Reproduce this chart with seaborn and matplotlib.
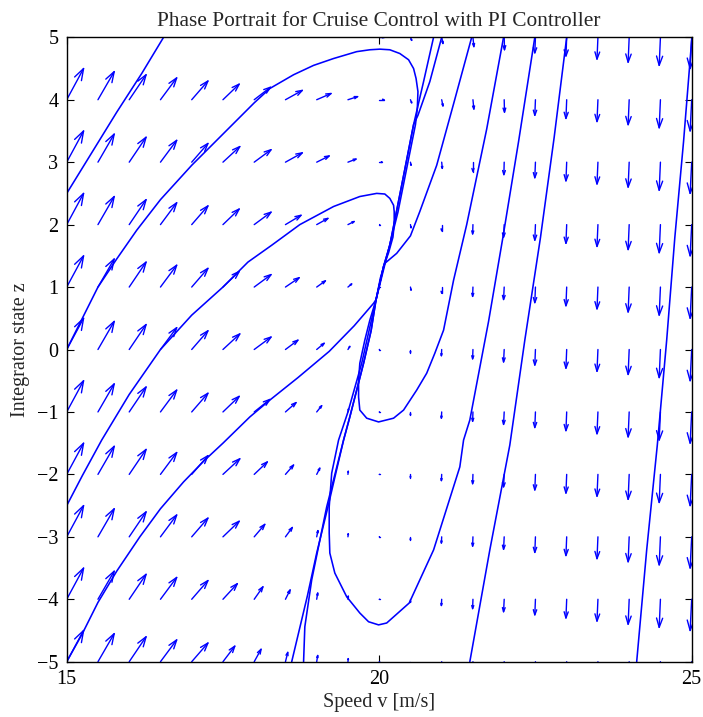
import numpy as np
import pandas as pd
import matplotlib
matplotlib.use("Agg")
import matplotlib.pyplot as plt
from matplotlib.collections import LineCollection
import seaborn as sns

# ---------------------------------------------------------------------------
# Vector field sampled on a regular grid (speed v, integrator state z)
# ---------------------------------------------------------------------------
speed_grid = [15.0, 15.5, 16.0, 16.5, 17.0, 17.5, 18.0, 18.5, 19.0, 19.5, 20.0,
              20.5, 21.0, 21.5, 22.0, 22.5, 23.0, 23.5, 24.0, 24.5, 25.0]
integrator_grid = [5, 4, 3, 2, 1, 0, -1, -2, -3, -4, -5]

# scaled dz/dt for every speed column
dz_column = [0.50, 0.45, 0.40, 0.35, 0.30, 0.25, 0.20, 0.15, 0.10, 0.05, 0.0,
             -0.05, -0.10, -0.15, -0.20, -0.25, -0.30, -0.35, -0.40, -0.45, -0.50]

# scaled dv/dt, one row per integrator level (top to bottom)
dv_z_p5 = [.27, .26, .27, .26, .26, .26, .26, .27, .23, .16, .08, .02, .02, .015, .005, -.01, -.012, -.015, -.017, -.02, -.025]
dv_z_p4 = [.27, .26, .27, .26, .26, .26, .26, .27, .23, .155, .08, .02, .02, .015, .005, -.01, -.012, -.015, -.017, -.02, -.025]
dv_z_p3 = [.27, .26, .27, .26, .26, .27, .27, .27, .20, .13, .05, .01, .01, .0, -.005, -.01, -.012, -.015, -.017, -.02, -.025]
dv_z_p2 = [.27, .26, .27, .26, .26, .26, .27, .25, .18, .10, .01, .01, .0, -.005, -.01, -.01, -.012, -.015, -.017, -.02, -.025]
dv_z_p1 = [.27, .26, .27, .26, .26, .26, .27, .22, .14, .06, .005, .01, .0, -.005, -.01, -.01, -.012, -.015, -.017, -.02, -.025]
dv_z_0 = [.27, .26, .27, .26, .26, .27, .27, .20, .12, .03, .005, .0, -.005, -.005, -.01, -.01, -.012, -.015, -.017, -.02, -.025]
dv_z_m1 = [.27, .26, .27, .26, .26, .26, .25, .17, .08, .01, .005, .0, -.005, -.005, -.01, -.01, -.012, -.015, -.017, -.02, -.025]
dv_z_m2 = [.27, .26, .27, .26, .26, .27, .21, .13, .05, .005, .005, .0, -.005, -.005, -.01, -.01, -.012, -.015, -.017, -.02, -.025]
dv_z_m3 = [.27, .26, .27, .26, .26, .26, .17, .11, .02, .005, .005, .0, -.005, -.005, -.01, -.01, -.012, -.015, -.017, -.02, -.025]
dv_z_m4 = [.27, .26, .27, .26, .26, .23, .14, .075, .016, .005, .005, .0, -.005, -.005, -.01, -.01, -.012, -.015, -.017, -.02, -.025]
dv_z_m5 = [.27, .26, .27, .26, .26, .19, .11, .037, .016, .005, .005, .0, -.005, -.005, -.01, -.01, -.012, -.015, -.017, -.02, -.025]

# ---------------------------------------------------------------------------
# Simulated trajectories (speed, integrator state)
# ---------------------------------------------------------------------------
traj_a_v = [15.0, 15.4, 15.8, 16.2, 16.55]
traj_a_z = [2.5, 3.15, 3.8, 4.42, 5.0]

traj_b_v = [15.0, 15.25, 15.5, 15.8, 16.12, 16.5, 17.0, 17.5, 18.0, 18.25, 18.63, 18.95,
            19.27, 19.64, 19.85, 20.01, 20.17, 20.33, 20.47, 20.55, 20.59, 20.62, 20.61,
            20.58, 20.5, 20.4, 20.3, 20.2, 20.1, 19.95]
traj_b_z = [0.0, 0.5, 1.0, 1.45, 1.91, 2.4, 2.95, 3.45, 3.95, 4.18, 4.40, 4.55,
            4.66, 4.77, 4.80, 4.81, 4.80, 4.74, 4.64, 4.50, 4.34, 4.13, 3.86,
            3.6, 3.2, 2.7, 2.2, 1.8, 1.4, 0.8]

traj_d_v = [15.0, 15.25, 15.56, 16.0, 16.5, 17.0, 17.5, 17.9, 18.28, 18.73, 19.27, 19.69,
            19.96, 20.09, 20.17, 20.23, 20.24, 20.24, 20.22, 20.15, 20.07, 19.95]
traj_d_z = [-2.5, -2.02, -1.45, -0.72, 0.0, 0.55, 1.0, 1.4, 1.67, 2.0, 2.29, 2.45,
            2.5, 2.49, 2.42, 2.31, 2.21, 2.0, 1.8, 1.55, 1.33, 0.8]

traj_f_v = [15.0, 15.25, 15.5, 15.8, 16.17, 16.5, 16.87, 17.2, 17.5, 17.93, 18.25, 18.7,
            19.2, 19.6, 19.91, 19.95]
traj_f_z = [-5.0, -4.55, -4.05, -3.55, -3.0, -2.55, -2.12, -1.78, -1.5, -1.08, -0.81, -0.45,
            -0.03, 0.38, 0.74, 0.8]

traj_top1_v = [20.87, 20.71, 20.55, 20.36, 20.17, 20.07, 19.95]
traj_top1_z = [5.0, 4.29, 3.6, 2.63, 1.67, 1.33, 0.8]

traj_top2_v = [21.0, 20.81, 20.62, 20.55, 20.36, 20.17, 20.07, 19.95]
traj_top2_z = [5.0, 4.29, 3.75, 3.6, 2.63, 1.67, 1.33, 0.8]

traj_e_v = [21.48, 21.2, 20.92, 20.65, 20.5, 20.28, 20.09, 20.02, 19.95]
traj_e_z = [5.0, 3.97, 2.95, 2.21, 1.82, 1.54, 1.38, 1.15, 0.8]

traj_g_v = [21.99, 21.72, 21.4, 21.19, 21.03, 20.89, 20.76, 20.6, 20.39, 20.23, 19.99,
            19.8, 19.69, 19.67, 19.67, 19.69, 19.77, 19.85, 19.95]
traj_g_z = [5.0, 3.53, 2.0, 1.11, 0.31, -0.06, -0.38, -0.65, -0.97, -1.1, -1.16,
            -1.1, -0.97, -0.76, -0.49, -0.22, 0.15, 0.47, 0.8]

traj_h_v = [22.49, 22.23, 21.98, 21.75, 21.45, 21.35, 21.29, 20.87, 20.48, 20.12, 19.99,
            19.83, 19.69, 19.48, 19.29, 19.21, 19.2, 19.2, 19.24, 19.35, 19.5, 19.72, 19.95]
traj_h_z = [5.0, 3.33, 1.8, 0.45, -1.13, -1.45, -1.88, -3.21, -4.06, -4.38, -4.41,
            -4.36, -4.22, -3.96, -3.58, -3.26, -2.94, -2.52, -1.98, -1.45, -1.0, -0.22, 0.8]

traj_l4_v = [21.45, 21.77, 22.09, 22.33, 22.58, 22.8, 23.0]
traj_l4_z = [-5.0, -3.21, -1.53, 0.15, 1.79, 3.4, 5.0]

traj_l5_v = [24.12, 24.28, 24.45, 24.6, 24.73, 24.87, 25.0]
traj_l5_z = [-5.0, -3.21, -1.53, 0.15, 1.79, 3.33, 4.95]

traj_bot1_v = [18.6, 18.85, 19.0, 19.18, 19.43, 19.53, 19.75, 19.87, 19.95]
traj_bot1_z = [-5.0, -3.95, -3.26, -2.52, -1.45, -1.08, -0.22, 0.3, 0.8]

traj_bot2_v = [18.79, 18.81, 18.92, 19.16, 19.43, 19.53, 19.75, 19.87, 19.95]
traj_bot2_z = [-5.0, -4.44, -3.69, -2.52, -1.45, -1.08, -0.22, 0.3, 0.8]

trajectories = {
    "a": (traj_a_v, traj_a_z), "b": (traj_b_v, traj_b_z), "d": (traj_d_v, traj_d_z),
    "f": (traj_f_v, traj_f_z), "top1": (traj_top1_v, traj_top1_z),
    "top2": (traj_top2_v, traj_top2_z), "e": (traj_e_v, traj_e_z),
    "g": (traj_g_v, traj_g_z), "h": (traj_h_v, traj_h_z), "l4": (traj_l4_v, traj_l4_z),
    "l5": (traj_l5_v, traj_l5_z), "bot1": (traj_bot1_v, traj_bot1_z),
    "bot2": (traj_bot2_v, traj_bot2_z),
}

rows = []
for name, (vs, zs) in trajectories.items():
    for i, (v, z) in enumerate(zip(vs, zs)):
        rows.append({"traj": name, "step": i, "v": v, "z": z})
traj_df = pd.DataFrame(rows)

# ---------------------------------------------------------------------------
# Figure
# ---------------------------------------------------------------------------
sns.set_theme(style="ticks")
plt.rcParams["font.family"] = ["Liberation Serif", "DejaVu Serif"]

fig = plt.figure(figsize=(7.03, 7.17), dpi=100)
ax = fig.add_axes([0.0949, 0.0771, 0.8890, 0.8709])

# quiver arrows with open two-stroke heads
dv_rows = np.array([dv_z_p5, dv_z_p4, dv_z_p3, dv_z_p2, dv_z_p1, dv_z_0,
                    dv_z_m1, dv_z_m2, dv_z_m3, dv_z_m4, dv_z_m5])
VV, ZZ = np.meshgrid(speed_grid, integrator_grid)
DZ = np.tile(dz_column, (len(integrator_grid), 1))
alpha, beta = 0.33, 0.33
segs = []
for x0, y0, u, w in zip(VV.ravel(), ZZ.ravel(), dv_rows.ravel(), DZ.ravel()):
    tx, ty = x0 + u, y0 + w
    segs.append([(x0, y0), (tx, ty)])
    segs.append([(tx - alpha * (u + beta * w), ty - alpha * (w - beta * u)),
                 (tx, ty),
                 (tx - alpha * (u - beta * w), ty - alpha * (w + beta * u))])
arrows = LineCollection(segs, colors="#0000ff", linewidths=1.0, capstyle="round",
                        joinstyle="round")
ax.add_collection(arrows)

sns.lineplot(data=traj_df, x="v", y="z", units="traj", estimator=None, sort=False,
             color="#0000ff", linewidth=1.15, ax=ax, legend=False)

ax.set_xlim(15, 25)
ax.set_ylim(-5, 5)
ax.set_xticks([15, 20, 25])
ax.set_yticks(range(-5, 6))
ax.set_yticklabels([str(t).replace("-", "\u2212") for t in range(-5, 6)])
ax.tick_params(direction="in", length=5, width=0.8, top=True, right=True,
               labelsize=14.5, colors="black", pad=6)
for sp in ax.spines.values():
    sp.set_linewidth(1.0)
    sp.set_color("black")

ax.set_xlabel("Speed v [m/s]", fontsize=14.5, labelpad=3)
ax.set_ylabel("Integrator state z", fontsize=14.5, labelpad=5)
ax.set_title("Phase Portrait for Cruise Control with PI Controller", fontsize=15.4, pad=8)

fig.savefig("out.png", dpi=100)
